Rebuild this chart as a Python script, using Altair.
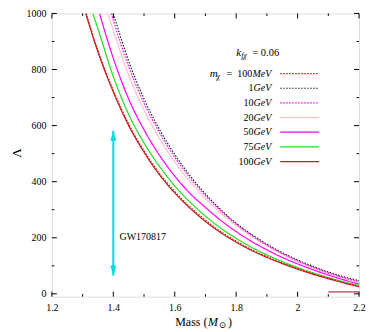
import altair as alt
import pandas as pd

# ---------------- data ----------------
series = ["100MeV", "1GeV", "10GeV", "20GeV", "50GeV", "75GeV", "100GeV"]
numbers = ["100", "1", "10", "20", "50", "75", "100"]
units = ["MeV", "GeV", "GeV", "GeV", "GeV", "GeV", "GeV"]
colors = ["#ff0000", "#222222", "#ff00ff", "#ffc0c8", "#ff00ff", "#22dd22", "#a52a2a"]
dotted = [True, True, True, False, False, False, False]

m_100MeV = [1.312, 1.35, 1.40, 1.45, 1.50, 1.55, 1.60, 1.65, 1.70, 1.75, 1.80, 1.85, 1.90, 1.95, 2.00, 2.05, 2.10, 2.15, 2.20]
l_100MeV = [1000, 868, 726, 606, 510, 430, 365, 310, 263, 222, 188, 158, 133, 110, 90, 72, 56, 41, 27]

m_1GeV = [1.40, 1.45, 1.50, 1.55, 1.60, 1.65, 1.70, 1.75, 1.80, 1.85, 1.90, 1.95, 2.00, 2.05, 2.10, 2.15, 2.20]
l_1GeV = [1000, 830, 695, 587, 497, 421, 356, 300, 252, 212, 177, 147, 121, 98, 78, 61, 47]

m_10GeV = [1.393, 1.40, 1.45, 1.50, 1.55, 1.60, 1.65, 1.70, 1.75, 1.80, 1.85, 1.90, 1.95, 2.00, 2.05, 2.10, 2.15, 2.20]
l_10GeV = [1000, 975, 810, 680, 575, 487, 413, 350, 296, 249, 209, 174, 144, 118, 95, 75, 58, 44]

m_20GeV = [1.382, 1.40, 1.45, 1.50, 1.55, 1.60, 1.65, 1.70, 1.75, 1.80, 1.85, 1.90, 1.95, 2.00, 2.05, 2.10, 2.15, 2.20]
l_20GeV = [1000, 940, 780, 655, 555, 470, 400, 340, 288, 244, 205, 171, 141, 115, 93, 73, 55, 40]

m_50GeV = [1.355, 1.40, 1.45, 1.50, 1.55, 1.60, 1.65, 1.70, 1.75, 1.80, 1.85, 1.90, 1.95, 2.00, 2.05, 2.10, 2.15, 2.20]
l_50GeV = [1000, 840, 695, 585, 495, 420, 358, 308, 262, 222, 187, 157, 130, 107, 86, 67, 50, 35]

m_75GeV = [1.333, 1.35, 1.40, 1.45, 1.50, 1.55, 1.60, 1.65, 1.70, 1.75, 1.80, 1.85, 1.90, 1.95, 2.00, 2.05, 2.10, 2.15, 2.20]
l_75GeV = [1000, 945, 775, 640, 538, 455, 385, 327, 277, 234, 198, 166, 139, 115, 94, 75, 58, 43, 30]

m_100GeV = [1.31, 1.35, 1.40, 1.45, 1.50, 1.55, 1.60, 1.65, 1.70, 1.75, 1.80, 1.85, 1.90, 1.95, 2.00, 2.05, 2.10, 2.15, 2.20]
l_100GeV = [1000, 862, 720, 600, 505, 425, 360, 305, 258, 218, 184, 155, 130, 108, 88, 70, 54, 39, 25]

hline_mass = [2.1, 2.2]
hline_lam = [7, 7]

arrow_mass = [1.4]
arrow_lo = [65]
arrow_hi = [582]

gw_label = ["GW170817"]
gw_mass = [1.42]
gw_lam = [204]

x_major = [1.2, 1.4, 1.6, 1.8, 2.0, 2.2]
x_minor = [1.3, 1.5, 1.7, 1.9, 2.1]
y_major = [0, 200, 400, 600, 800, 1000]
y_minor = [100, 300, 500, 700, 900]

# ---------------- build tables ----------------
curves = {
    "100MeV": (m_100MeV, l_100MeV), "1GeV": (m_1GeV, l_1GeV), "10GeV": (m_10GeV, l_10GeV),
    "20GeV": (m_20GeV, l_20GeV), "50GeV": (m_50GeV, l_50GeV), "75GeV": (m_75GeV, l_75GeV),
    "100GeV": (m_100GeV, l_100GeV),
}
rows = []
for s in series:
    ms, ls = curves[s]
    for m, l in zip(ms, ls):
        rows.append({"series": s, "mass": m, "lam": l})
df = pd.DataFrame(rows)

W, H = 308, 284
SERIF = "'Liberation Serif', 'Times New Roman', 'DejaVu Serif', serif"
dash_range = [[1.5, 1.5] if d else [1, 0] for d in dotted]

xs = alt.Scale(domain=[1.2, 2.2], nice=False, zero=False)
ys = alt.Scale(domain=[-10, 1000], nice=False, zero=False)
cs = alt.Scale(domain=series, range=colors)
ds = alt.Scale(domain=series, range=dash_range)

base_axis = dict(tickSize=0, domain=False, grid=False, labelFont=SERIF, labelFontSize=10,
                 labelColor="black", title=None)

solid = df[df.series.isin([s for s, d in zip(series, dotted) if not d])]
dots = df[df.series.isin([s for s, d in zip(series, dotted) if d])]

def curve_layer(data):
    return alt.Chart(data).mark_line(clip=True, strokeWidth=1.2, interpolate="monotone").encode(
        x=alt.X("mass:Q", scale=xs, axis=alt.Axis(values=x_major, format="~g", labelFlush=False,
                                                  labelPadding=6, **base_axis)),
        y=alt.Y("lam:Q", scale=ys, axis=alt.Axis(values=y_major, format="d", labelPadding=6,
                                                 **base_axis)),
        color=alt.Color("series:N", scale=cs, legend=None),
        strokeDash=alt.StrokeDash("series:N", scale=ds, legend=None),
        detail="series:N",
    )

lines_solid = curve_layer(solid)
lines_dotted = curve_layer(dots)

hline = alt.Chart(pd.DataFrame({"mass": hline_mass, "lam": hline_lam})).mark_line(
    color="#b86060", strokeWidth=1.5).encode(x=alt.X("mass:Q", scale=xs), y=alt.Y("lam:Q", scale=ys))

adf = pd.DataFrame({"mass": arrow_mass, "lo": arrow_lo, "hi": arrow_hi})
arrow = alt.Chart(adf).mark_rule(color="#00dddd", strokeWidth=2).encode(
    x=alt.X("mass:Q", scale=xs), y=alt.Y("lo:Q", scale=ys), y2="hi:Q")
head_up = alt.Chart(adf).mark_point(shape="M0,-1L0.5,0.7L-0.5,0.7Z", filled=True, opacity=1,
                                    color="#00dddd", size=144, yOffset=6).encode(
    x=alt.X("mass:Q", scale=xs), y=alt.Y("hi:Q", scale=ys))
head_dn = alt.Chart(adf).mark_point(shape="M0,1L0.5,-0.7L-0.5,-0.7Z", filled=True, opacity=1,
                                    color="#00dddd", size=144, yOffset=-6).encode(
    x=alt.X("mass:Q", scale=xs), y=alt.Y("lo:Q", scale=ys))

gw = alt.Chart(pd.DataFrame({"mass": gw_mass, "lam": gw_lam, "t": gw_label})).mark_text(
    font=SERIF, fontSize=10, align="left", baseline="middle", color="black").encode(
    x=alt.X("mass:Q", scale=xs), y=alt.Y("lam:Q", scale=ys), text="t:N")

# ticks (inward, mirrored)
tick_layers = []
for vals, ln in ((x_major, 5), (x_minor, 2.5)):
    t = pd.DataFrame({"v": vals})
    tick_layers.append(alt.Chart(t).mark_rule(color="black", strokeWidth=1).encode(
        x=alt.X("v:Q", scale=xs), y=alt.value(H), y2=alt.value(H - ln)))
    tick_layers.append(alt.Chart(t).mark_rule(color="black", strokeWidth=1).encode(
        x=alt.X("v:Q", scale=xs), y=alt.value(0), y2=alt.value(ln)))
for vals, ln in ((y_major, 5), (y_minor, 2.5)):
    t = pd.DataFrame({"v": vals})
    tick_layers.append(alt.Chart(t).mark_rule(color="black", strokeWidth=1).encode(
        y=alt.Y("v:Q", scale=ys), x=alt.value(0), x2=alt.value(ln)))
    tick_layers.append(alt.Chart(t).mark_rule(color="black", strokeWidth=1).encode(
        y=alt.Y("v:Q", scale=ys), x=alt.value(W), x2=alt.value(W - ln)))

# custom legend
leg_y0, leg_dy = 60.3, 14.7
unit_w = {"MeV": 19.0, "GeV": 17.8}
ldf = pd.DataFrame({
    "series": series,
    "num": numbers,
    "unit": units,
    "ly": [leg_y0 + leg_dy * i for i in range(len(series))],
    "nx": [220 - unit_w[u] for u in units],
})
leg_lines = alt.Chart(ldf).mark_rule(strokeWidth=1.2).encode(
    x=alt.value(229), x2=alt.value(268), y=alt.Y("ly:Q", scale=None),
    color=alt.Color("series:N", scale=cs, legend=None),
    strokeDash=alt.StrokeDash("series:N", scale=ds, legend=None))
leg_units = alt.Chart(ldf).mark_text(font=SERIF, fontSize=10, fontStyle="italic", align="right",
                                     baseline="middle", color="black").encode(
    x=alt.value(220), y=alt.Y("ly:Q", scale=None), text="unit:N")
leg_nums = alt.Chart(ldf).mark_text(font=SERIF, fontSize=10, align="right",
                                    baseline="middle", color="black").encode(
    x=alt.X("nx:Q", scale=None), y=alt.Y("ly:Q", scale=None), text="num:N")

def label(txt, x, y, size=10, style="normal", align="left", angle=0):
    return alt.Chart(pd.DataFrame({"t": [txt]})).mark_text(
        font=SERIF, fontSize=size, fontStyle=style, align=align, baseline="middle",
        color="black", angle=angle).encode(x=alt.value(x), y=alt.value(y), text="t:N")

annots = [
    label("m", 158.3, leg_y0, 11, "italic"),
    label("χ", 165.0, leg_y0 + 3, 8, "italic"),
    label("=", 175.0, leg_y0, 10),
    label("k", 185.0, 40, 11, "italic"),
    label("fχ", 189.8, 43, 8, "italic"),
    label("= 0.06", 201.0, 40, 10.5),
    label("Mass (", 156.0, 309.7, 12, align="right"),
    label("M", 156.5, 309.7, 12, "italic"),
    label("⊙", 167.3, 312.5, 9),
    label(")", 176.5, 309.7, 12),
    label("Λ", -35.0, 140.0, 13, align="center", angle=270),
]

chart = alt.layer(
    lines_solid, lines_dotted, hline, arrow, head_up, head_dn, gw,
    *tick_layers, leg_lines, leg_units, leg_nums, *annots
).properties(
    width=W, height=H,
    autosize=alt.AutoSizeParams(type="none"),
    padding={"left": 44, "top": 5, "right": 12, "bottom": 40},
).configure_view(stroke="black", strokeWidth=1).configure(background="white")

chart.save("out.html", embed_options={"renderer": "svg", "actions": False})
